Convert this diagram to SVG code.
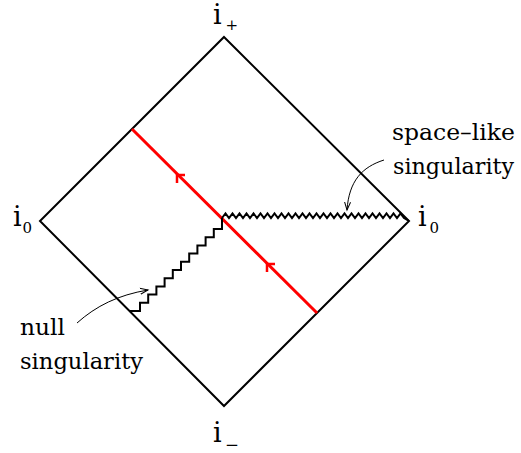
<svg xmlns="http://www.w3.org/2000/svg" width="521" height="453" viewBox="0 0 521 453">
<style>
.edge{fill:none;stroke:#000;stroke-width:2;stroke-linejoin:miter}
.sing{fill:none;stroke:#000;stroke-width:2;stroke-linejoin:miter}
.red{fill:none;stroke:#ff0000;stroke-width:3}
.redhead{fill:none;stroke:#ff0000;stroke-width:2.5}
.ptr{fill:none;stroke:#000;stroke-width:1}
</style>
<defs>
<marker id="arr" markerWidth="10" markerHeight="8" refX="8" refY="4" orient="auto" markerUnits="userSpaceOnUse">
<path d="M0,1 L8,4 L0,7" fill="none" stroke="#000" stroke-width="1"/>
</marker>
</defs>
<g id="diamond">
<path class="edge" d="M224,37 L409,221 L224,406 L40,221 Z"/>
</g>
<g id="connectors">
<path id="ray" class="red" d="M132,129 L317,313"/>
<path class="redhead" d="M185,175 L177,175 L177,183"/>
<path class="redhead" d="M275,264 L267,264 L267,272"/>
<path id="spacelike-sing" class="sing" d="M222,218 l3.5,-4.5 l3.5,4.5 l3.5,-4.5 l3.5,4.5 l3.5,-4.5 l3.5,4.5 l3.5,-4.5 l3.5,4.5 l3.5,-4.5 l3.5,4.5 l3.5,-4.5 l3.5,4.5 l3.5,-4.5 l3.5,4.5 l3.5,-4.5 l3.5,4.5 l3.5,-4.5 l3.5,4.5 l3.5,-4.5 l3.5,4.5 l3.5,-4.5 l3.5,4.5 l3.5,-4.5 l3.5,4.5 l3.5,-4.5 l3.5,4.5 l3.5,-4.5 l3.5,4.5 l3.5,-4.5 l3.5,4.5 l3.5,-4.5 l3.5,4.5 l3.5,-4.5 l3.5,4.5 l3.5,-4.5 l3.5,4.5 l3.5,-4.5 l3.5,4.5 l3.5,-4.5 l3.5,4.5 l3.5,-4.5 l3.5,4.5 l3.5,-4.5 l3.5,4.5 l3.5,-4.5 l3.5,4.5 l3.5,-4.5 l3.5,4.5 l3.5,-4.5 l3.5,4.5 l3.5,-4.5 l3.5,4.5 L409,221"/>
<path id="null-sing" class="sing" d="M222,218 V229 h-8.2 v8.2 h-8.2 v8.2 h-8.2 v8.2 h-8.2 v8.2 h-8.2 v8.2 h-8.2 v8.2 h-8.2 v8.2 h-8.2 v8.2 h-8.2 v8.2 h-8.2 v8.2 H130"/>
<path class="ptr" d="M384,160 C362,167 349,181 347,210" marker-end="url(#arr)"/>
<path class="ptr" d="M77,323 C96,306 118,295 148,290" marker-end="url(#arr)"/>
</g>
<g font-family="DejaVu Serif, serif" fill="#000">
<g id="i-plus">
<text font-size="27" x="213" y="24">i</text>
<text font-size="15" x="225.5" y="30">+</text>
</g>
<g id="i0-left">
<text font-size="27" x="13" y="226">i</text>
<text font-size="15" x="22.6" y="233">0</text>
</g>
<g id="i0-right">
<text font-size="27" x="418" y="226">i</text>
<text font-size="15" x="429.5" y="233">0</text>
</g>
<g id="i-minus">
<text font-size="27" x="213" y="442">i</text>
<text font-size="15" x="225" y="450" textLength="14" lengthAdjust="spacingAndGlyphs">−</text>
</g>
<g id="label-spacelike">
<text font-size="23" x="392" y="140" textLength="123" lengthAdjust="spacingAndGlyphs">space–like</text>
<text font-size="23" x="393" y="174" textLength="121" lengthAdjust="spacingAndGlyphs">singularity</text>
</g>
<g id="label-null">
<text font-size="23" x="20" y="335" textLength="45" lengthAdjust="spacingAndGlyphs">null</text>
<text font-size="23" x="20" y="369" textLength="123" lengthAdjust="spacingAndGlyphs">singularity</text>
</g>
</g>
</svg>
